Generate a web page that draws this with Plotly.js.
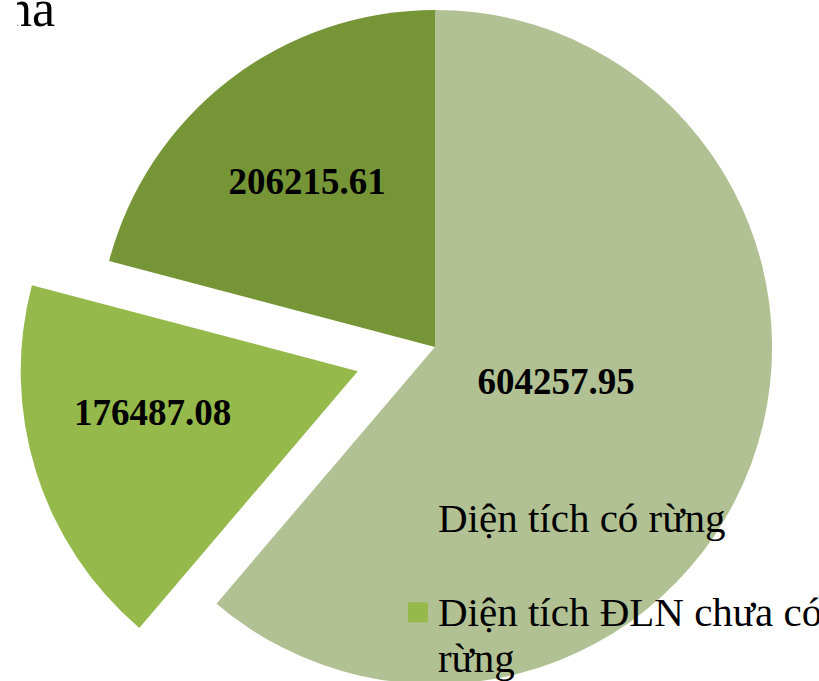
<!DOCTYPE html>
<html>
<head>
<meta charset="utf-8">
<script src="https://cdn.plot.ly/plotly-3.0.1.min.js"></script>
<style>
  html, body { margin: 0; padding: 0; width: 819px; height: 681px; overflow: hidden; background: #ffffff; }
  #chart { position: absolute; left: 17px; top: -71px; width: 836px; height: 836px; }
</style>
</head>
<body>
<div id="chart"></div>
<script>
// ---- data ----
const categories = ["Diện tích có rừng", "Diện tích ĐLN chưa có rừng", "Diện tích khác"];
const values = [604257.95, 176487.08, 206215.61];
const legendText = ["Diện tích có rừng<br>&nbsp;", "Diện tích ĐLN chưa có<br>rừng", "Diện tích khác"];
const sliceColors = ["#b1c193", "#95b94a", "#769536"];
const pulls = [0, 0.24, 0];
const titleFragment = "na";

const NB = "&nbsp;";
const labelTemplates = [
  "%{value:.2f}" + NB.repeat(8) + "<br>" + NB,
  NB + "%{value:.2f}<br>" + NB,
  "%{value:.2f}"
];

const displayLabels = legendText.map(t =>
  t.split("<br>").map(s => "<span style='font-size:41px'>" + s + "</span>").join("<br>")
);

const trace = {
  type: "pie",
  labels: displayLabels,
  values: values,
  sort: false,
  direction: "clockwise",
  rotation: 0,
  pull: pulls,
  marker: { colors: sliceColors, line: { width: 0 } },
  textposition: "inside",
  insidetextorientation: "horizontal",
  texttemplate: labelTemplates,
  insidetextfont: { family: "Liberation Serif", size: 37, color: "#000000", weight: "bold" },
  hoverinfo: "label+value",
  domain: { x: [0, 1], y: [0, 1] }
};

const layout = {
  width: 836,
  height: 836,
  margin: { l: 0, r: 0, t: 0, b: 0, pad: 0 },
  paper_bgcolor: "#ffffff",
  plot_bgcolor: "#ffffff",
  showlegend: true,
  legend: {
    x: 0.4557, xanchor: "left",
    y: 0.330, yanchor: "top",
    valign: "top",
    bgcolor: "rgba(0,0,0,0)",
    borderwidth: 0,
    font: { family: "Liberation Serif", size: 35, color: "#000000" }
  },
  annotations: [{
    text: titleFragment,
    xref: "paper", yref: "paper",
    x: 0.0478, y: 0.869,
    xanchor: "right", yanchor: "bottom",
    showarrow: false,
    font: { family: "Liberation Serif", size: 52, color: "#000000" }
  }]
};

Plotly.newPlot("chart", [trace], layout, { displayModeBar: false, staticPlot: true }).then(gd => {
  // enlarge the legend swatches to the reference's size
  gd.querySelectorAll("path.legendpie").forEach(p => p.setAttribute("d", "M10,10H-10V-10H10Z"));
});
</script>
</body>
</html>
